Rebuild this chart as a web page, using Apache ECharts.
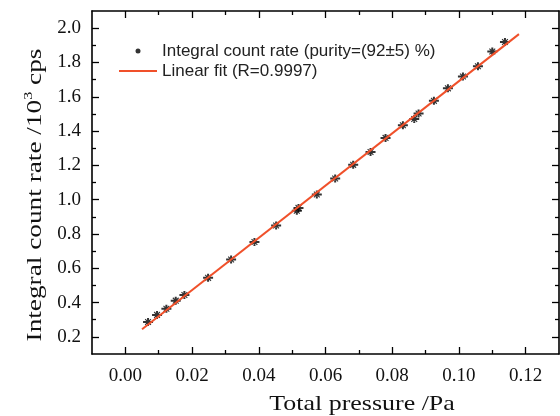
<!DOCTYPE html>
<html><head><meta charset="utf-8">
<script src="https://cdn.jsdelivr.net/npm/echarts@6/dist/echarts.min.js"></script>
<style>html,body{margin:0;padding:0;background:#fff}#c{width:560px;height:416px}</style>
</head><body><div id="c"></div>
<script>
const pressure = [0.0068, 0.0095, 0.0123, 0.0151, 0.0177, 0.0248, 0.0317, 0.0387, 0.0452, 0.0514, 0.0519, 0.0574, 0.0629, 0.0683, 0.0735, 0.0780, 0.0832, 0.0866, 0.0879, 0.0925, 0.0967, 0.1012, 0.1057, 0.1100, 0.1138];
const countRate = [0.287, 0.328, 0.364, 0.411, 0.444, 0.544, 0.651, 0.753, 0.849, 0.935, 0.952, 1.030, 1.123, 1.203, 1.278, 1.360, 1.434, 1.470, 1.502, 1.576, 1.649, 1.718, 1.778, 1.864, 1.919];
const fitPressure = [0.005, 0.118];
const fitRate = [0.244, 1.965];
const xTicksMajor = [0.00, 0.02, 0.04, 0.06, 0.08, 0.10, 0.12];
const xTicksMinor = [0.01, 0.03, 0.05, 0.07, 0.09, 0.11];
const yTicksMajor = [0.2, 0.4, 0.6, 0.8, 1.0, 1.2, 1.4, 1.6, 1.8, 2.0];
const yTicksMinor = [0.3, 0.5, 0.7, 0.9, 1.1, 1.3, 1.5, 1.7, 1.9];
const scatterName = 'Integral count rate (purity=(92\u00b15) %)';
const fitName = 'Linear fit (R=0.9997)';

const serif = '"Liberation Serif", "Times New Roman", serif';
const lineCol = '#000';
const fitCol = '#f0502a';

function axis(dim, pos, vals, len, showLabel, showLine, fmt) {
  return {
    type: 'value', position: pos, gridIndex: 0,
    min: dim === 'x' ? -0.01 : 0.1,
    max: dim === 'x' ? 0.13 : 2.1,
    axisLine: {show: showLine, onZero: false, lineStyle: {color: lineCol, width: 1.6}},
    axisTick: {show: true, inside: true, length: len, customValues: vals, lineStyle: {color: lineCol, width: 1.3}},
    axisLabel: {show: showLabel, customValues: vals, formatter: fmt,
      fontFamily: serif, fontSize: 19, color: '#111', margin: dim === 'x' ? 13 : 11},
    splitLine: {show: false}
  };
}
const fx = v => v.toFixed(2);
const fy = v => v.toFixed(1);

const chart = echarts.init(document.getElementById('c'), null, {renderer: 'canvas'});
const symbolPath = 'path://M-5,-1L5,-1L5,1L-5,1Z M-1,-4L1,-4L1,4L-1,4Z M-3.3,-2.5L-2.5,-3.3L3.3,2.5L2.5,3.3Z M2.5,-3.3L3.3,-2.5L-2.5,3.3L-3.3,2.5Z M-2.4,0A2.4,2.4,0,1,1,2.4,0A2.4,2.4,0,1,1,-2.4,0Z';

chart.setOption({
  animation: false,
  backgroundColor: '#fff',
  grid: {left: 92, top: 11, right: 1, bottom: 62, containLabel: false},
  xAxis: [
    axis('x', 'bottom', xTicksMajor, 7, true, true, fx),
    axis('x', 'bottom', xTicksMinor, 4, false, false, fx),
    axis('x', 'top', xTicksMajor, 7, false, true, fx),
    axis('x', 'top', xTicksMinor, 4, false, false, fx)
  ],
  yAxis: [
    axis('y', 'left', yTicksMajor, 7, true, true, fy),
    axis('y', 'left', yTicksMinor, 4, false, false, fy),
    axis('y', 'right', yTicksMajor, 7, false, true, fy),
    axis('y', 'right', yTicksMinor, 4, false, false, fy)
  ],
  legend: {
    left: 119, top: 41, padding: 0, orient: 'vertical', itemWidth: 38, itemHeight: 5, itemGap: 0,
    textStyle: {fontFamily: 'Liberation Sans', fontSize: 17, color: '#222', lineHeight: 20},
    data: [
      {name: scatterName, icon: 'circle', itemStyle: {color: '#000'}},
      {name: fitName, icon: 'path://M0,0L38,0L38,2L0,2Z', itemStyle: {color: fitCol}}
    ]
  },
  series: [
    {
      name: scatterName, type: 'scatter', xAxisIndex: 0, yAxisIndex: 0,
      symbol: symbolPath, symbolSize: [10, 8],
      itemStyle: {color: '#000'},
      data: pressure.map((p, i) => [p, countRate[i]]),
      z: 3
    },
    {
      name: fitName, type: 'line', xAxisIndex: 0, yAxisIndex: 0,
      symbol: 'none', lineStyle: {color: fitCol, width: 2},
      itemStyle: {color: fitCol},
      data: fitPressure.map((p, i) => [p, fitRate[i]]),
      z: 4
    }
  ],
  graphic: [
    {type: 'text', x: 362, y: 404, scaleX: 1.18,
      style: {text: 'Total pressure /Pa', fontFamily: serif, fontSize: 22, fill: '#111', align: 'center', verticalAlign: 'middle'}},
    {type: 'text', x: 35, y: 195, rotation: Math.PI / 2, scaleX: 1.24,
      style: {text: '{a|Integral count rate /10}{s|3}{a| cps}', align: 'center', verticalAlign: 'middle',
        rich: {
          a: {fontFamily: serif, fontSize: 22, fill: '#111', lineHeight: 26},
          s: {fontFamily: serif, fontSize: 13, fill: '#111', lineHeight: 15, verticalAlign: 'top'}
        }}}
  ]
});
</script></body></html>
